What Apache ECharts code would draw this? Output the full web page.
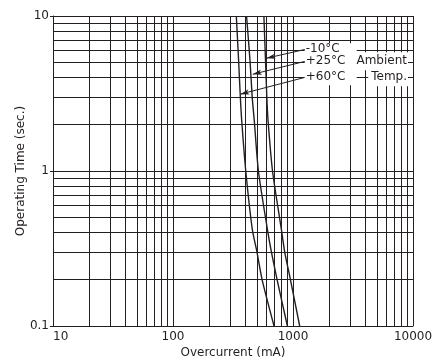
<!DOCTYPE html>
<html><head><meta charset="utf-8">
<script src="https://cdn.jsdelivr.net/npm/echarts@6/dist/echarts.min.js"></script>
<style>html,body{margin:0;padding:0;background:#fff}#c{width:433px;height:360px}</style>
</head><body><div id="c"></div>
<script>
// Data (x: overcurrent mA, y: operating time s)
const seriesNames = ['-10°C', '+25°C', '+60°C'];
const currentMinus10 = [572, 590, 605, 620, 675, 800, 853, 951, 1137];
const timeMinus10    = [10, 5.2, 3, 2.1, 1, 0.42, 0.3, 0.2, 0.1];
const currentPlus25  = [410, 438, 457, 476, 515, 612, 661, 736, 898];
const timePlus25     = [10, 5.2, 3, 2.1, 1, 0.42, 0.3, 0.2, 0.1];
const currentPlus60  = [337, 352, 364, 374, 404, 458, 501, 552, 695];
const timePlus60     = [10, 5.2, 3, 2.1, 1, 0.42, 0.3, 0.2, 0.1];
// leader-line anchors in data space: [labelX, labelY, tipX, tipY]
const leaderMinus10 = [1276, 6.10, 600, 5.34];
const leaderPlus25  = [1276, 5.11, 462, 4.21];
const leaderPlus60  = [1276, 4.03, 364, 3.13];
const xTickLabels = ['10', '100', '1000', '10000'];
const yTickLabels = ['0.1', '1', '10'];

const INK = '#231f20';
const FONT = 'DejaVu Sans';
const zip = (xs, ys) => xs.map((x, i) => [x, ys[i]]);

const curves = [
  zip(currentMinus10, timeMinus10),
  zip(currentPlus25, timePlus25),
  zip(currentPlus60, timePlus60)
];
const leaders = [leaderMinus10, leaderPlus25, leaderPlus60];

const chart = echarts.init(document.getElementById('c'), null, {renderer: 'canvas'});
chart.setOption({
  animation: false,
  backgroundColor: '#fff',
  textStyle: {fontFamily: FONT},
  grid: {left: 53, right: 20, top: 16, bottom: 34, containLabel: false, outerBoundsMode: 'none'},
  xAxis: {
    type: 'log', logBase: 10, min: 10, max: 10000,
    name: 'Overcurrent (mA)', nameLocation: 'middle', nameGap: 21, nameMoveOverlap: false,
    nameTextStyle: {fontFamily: FONT, fontSize: 12, color: INK},
    axisLine: {lineStyle: {color: INK, width: 1}},
    axisTick: {show: false},
    axisLabel: {
      fontFamily: FONT, fontSize: 12, color: INK, margin: 5,
      alignMinLabel: 'left',
      formatter: v => xTickLabels.find(t => Number(t) === Math.round(v)) || ''
    },
    splitLine: {show: true, lineStyle: {color: INK, width: 1}},
    minorTick: {show: false, splitNumber: 9},
    minorSplitLine: {show: true, lineStyle: {color: INK, width: 1}}
  },
  yAxis: {
    type: 'log', logBase: 10, min: 0.1, max: 10,
    name: 'Operating Time (sec.)', nameLocation: 'middle', nameGap: 26, nameMoveOverlap: false,
    nameTextStyle: {fontFamily: FONT, fontSize: 12, color: INK},
    axisLine: {show: true, lineStyle: {color: INK, width: 1}},
    axisTick: {show: true, length: 3, lineStyle: {color: INK}},
    axisLabel: {
      fontFamily: FONT, fontSize: 12, color: INK, margin: 4,
      formatter: v => yTickLabels.find(t => Math.abs(Number(t) - v) < 1e-9) || ''
    },
    splitLine: {show: true, lineStyle: {color: INK, width: 1}},
    minorTick: {show: false, splitNumber: 9},
    minorSplitLine: {show: true, lineStyle: {color: INK, width: 1}}
  },
  series: curves.map((d, i) => ({
    name: seriesNames[i],
    type: 'line',
    data: d,
    smooth: 0.25,
    showSymbol: false,
    lineStyle: {color: INK, width: 1.4},
    z: 5,
    markLine: {
      silent: true,
      animation: false,
      symbol: ['none', 'arrow'],
      symbolSize: [4, 9],
      label: {show: false},
      lineStyle: {color: INK, width: 1, type: 'solid'},
      data: [[
        {coord: [leaders[i][0], leaders[i][1]]},
        {coord: [leaders[i][2], leaders[i][3]]}
      ]]
    }
  }))
});

// Annotation labels placed next to the leader-line starts
function place() {
  const g = [];
  const p0 = chart.convertToPixel({gridIndex: 0}, [leaderMinus10[0], leaderMinus10[1]]);
  const p2 = chart.convertToPixel({gridIndex: 0}, [leaderPlus60[0], leaderPlus60[1]]);
  // white panel behind the three temperature labels
  g.push({type: 'rect', z: 98, shape: {x: p0[0] - 1, y: p0[1] - 6, width: 52, height: p2[1] - p0[1] + 14}, style: {fill: '#fff'}});
  leaders.forEach((l, i) => {
    const p = chart.convertToPixel({gridIndex: 0}, [l[0], l[1]]);
    g.push({
      type: 'text', x: p[0], y: p[1], z: 100,
      style: {
        text: seriesNames[i], fill: INK, font: '12px "' + FONT + '"',
        align: 'left', verticalAlign: 'middle'
      }
    });
  });
  const pA = chart.convertToPixel({gridIndex: 0}, [leaderPlus25[0], leaderPlus25[1]]);
  g.push({type: 'text', x: 408, y: pA[1], z: 100,
    style: {text: 'Ambient', fill: INK, font: '12px "' + FONT + '"', align: 'right', verticalAlign: 'middle', backgroundColor: '#fff', padding: [3, 1, 3, 3]}});
  g.push({type: 'text', x: 408, y: p2[1], z: 100,
    style: {text: 'Temp.', fill: INK, font: '12px "' + FONT + '"', align: 'right', verticalAlign: 'middle', backgroundColor: '#fff', padding: [3, 1, 3, 3]}});
  chart.setOption({graphic: g});
}
place();
</script>
</body></html>
